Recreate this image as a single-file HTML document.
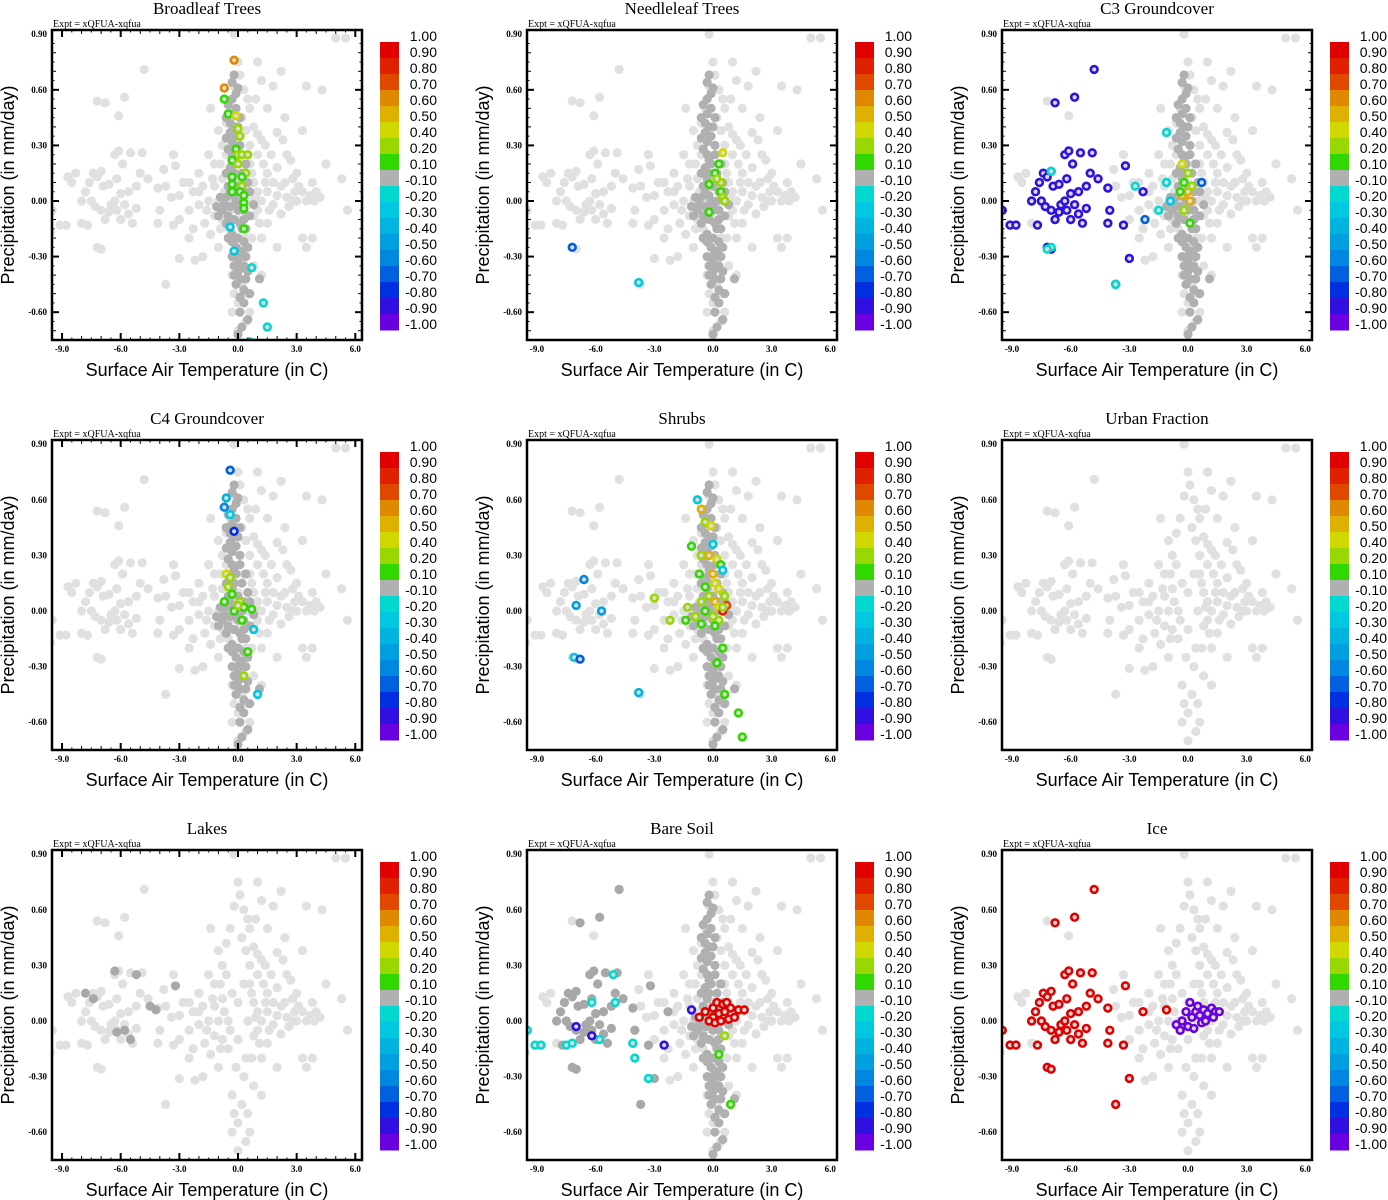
<!DOCTYPE html>
<html><head><meta charset="utf-8">
<style>
html,body{margin:0;padding:0;background:#fff;}
svg{display:block;}
.ttl{font-family:"Liberation Serif",serif;font-size:17px;}
.expt{font-family:"Liberation Serif",serif;font-size:10px;}
.tick{font-family:"Liberation Serif",serif;font-size:9px;font-weight:bold;}
.ax{font-family:"Liberation Sans",sans-serif;font-size:18px;}
.cb{font-family:"Liberation Sans",sans-serif;font-size:14px;}
</style></head>
<body>
<svg id="chart" width="1388" height="1200" viewBox="0 0 1388 1200" xmlns="http://www.w3.org/2000/svg"></svg>
<script>
const panelTitles=["Broadleaf Trees","Needleleaf Trees","C3 Groundcover","C4 Groundcover","Shrubs","Urban Fraction","Lakes","Bare Soil","Ice"];
const xTicks=[-9,-6,-3,0,3,6];
const xTickLabels=["-9.0","-6.0","-3.0","0.0","3.0","6.0"];
const yTicks=[0.9,0.6,0.3,0,-0.3,-0.6];
const yTickLabels=["0.90","0.60","0.30","0.00","-0.30","-0.60"];
const cbLabels=["1.00","0.90","0.80","0.70","0.60","0.50","0.40","0.20","0.10","-0.10","-0.20","-0.30","-0.40","-0.50","-0.60","-0.70","-0.80","-0.90","-1.00"];
const cbEdges=[1,0.9,0.8,0.7,0.6,0.5,0.4,0.2,0.1,-0.1,-0.2,-0.3,-0.4,-0.5,-0.6,-0.7,-0.8,-0.9,-1.0];
const cbColors=["#e00000","#e02000","#e04800","#e08800","#e0b000","#d0d800","#98d800","#30d800","#b0b0b0","#00d8d0","#00c8e0","#00b4e0","#00a0e0","#0088e0","#0060e0","#0030e0","#3010e0","#6a00e0"];

const leftCluster=[[-9.5,-0.05],[-9.1,-0.13],[-8.8,-0.13],[-8.0,0.0],[-7.8,0.05],[-7.6,0.10],[-7.4,0.15],[-7.2,0.13],[-7.0,0.16],[-6.9,0.08],[-6.6,0.09],[-6.2,0.12],[-6.0,0.04],[-5.6,0.05],[-5.2,0.08],[-5.0,0.15],[-4.6,0.12],[-4.1,0.07],[-7.5,0.0],[-7.3,-0.03],[-7.0,-0.05],[-6.8,-0.1],[-6.5,-0.02],[-6.2,-0.05],[-6.0,-0.1],[-5.8,-0.02],[-5.6,-0.07],[-5.4,-0.12],[-5.2,-0.04],[-7.7,-0.13],[-7.2,-0.25],[-7.0,-0.26],[-4.1,-0.12],[-4.0,-0.05],[-3.3,-0.13],[-3.7,-0.45],[-3.0,-0.31],[-6.8,0.53],[-6.3,0.25],[-5.9,0.20],[-5.8,0.56],[-4.8,0.71],[-5.5,0.26],[-6.1,0.27],[-4.9,0.26],[-3.2,0.19],[-2.3,0.05],[-6.3,0.0],[-6.6,-0.06]];
const basePoints=[[0,0.75],[0.1,0.68],[-0.2,0.62],[0.3,0.6],[0.5,0.55],[-0.4,0.5],[0.6,0.5],[0.2,0.45],[-0.6,0.42],[0.8,0.4],[1.0,0.36],[-1.0,0.38],[1.2,0.33],[-0.8,0.3],[0.6,0.3],[1.4,0.3],[2.0,0.37],[2.3,0.33],[1.7,0.25],[-1.5,0.25],[2.5,0.25],[-1.2,0.2],[1.3,0.2],[3.0,0.15],[-2.0,0.15],[2.8,0.12],[-2.5,0.1],[-1.8,0.08],[1.8,0.1],[2.2,0.08],[3.3,0.05],[3.7,0.03],[4.2,0.02],[3.0,0.0],[2.5,0.02],[2.0,0.03],[1.5,0.05],[1.0,0.05],[0.8,0.1],[1.2,0.0],[2.6,-0.03],[-1.0,0.0],[-1.5,0.0],[-2.0,-0.02],[-2.5,-0.05],[-1.2,-0.08],[-0.8,-0.1],[-1.7,-0.12],[-2.3,-0.15],[-3.0,-0.1],[-0.5,-0.15],[0.8,-0.08],[1.5,-0.12],[2.2,-0.07],[3.3,-0.2],[3.5,-0.25],[2.0,-0.25],[1.2,-0.2],[-1.0,-0.25],[-1.8,-0.3],[-2.2,-0.32],[0.3,-0.3],[0.8,-0.35],[1.2,-0.4],[-0.3,-0.4],[0.5,-0.5],[0,-0.55],[-0.3,-0.6],[0.4,-0.65],[0,-0.7],[-0.5,0.0],[0.5,0.0],[0,0.1],[0,-0.1],[0.3,0.2],[-0.3,0.15],[0.4,-0.2],[-0.4,-0.05],[1.8,-0.02],[4.5,0.2],[4.3,0.6],[3.5,0.62],[2.2,0.7],[1.2,0.65],[1.0,0.75],[1.5,0.5],[2.4,0.45],[3.3,0.38],[-1.4,0.5],[-0.2,0.9],[5.3,0.12],[5.6,-0.05],[3.8,-0.2],[-2.5,-0.2],[-3.7,0.08],[-3.4,0.02],[-3.0,0.03],[-3.8,0.17],[-3.3,0.25],[-2.8,0.1],[-0.9,0.2],[-0.6,0.25],[1.5,0.15],[2.0,0.18],[2.7,0.22],[3.8,0.1],[0.9,0.55],[1.8,0.62],[5.0,0.88],[5.5,0.88],[-1.2,0.08],[-2.0,0.05],[-1.6,-0.05],[1.0,-0.05],[0.2,-0.45],[-0.1,-0.25],[-0.7,0.05],[0.7,0.15],[-1.3,0.12],[1.6,-0.05],[2.9,0.05],[3.5,0.0],[4.0,0.05],[-8.5,0.1],[-8.3,0.15],[-8.0,-0.12],[-7.2,0.54],[-6.1,0.46],[-8.7,0.13],[-9.6,-0.17],[0.9,0.02],[1.4,0.1],[2.4,0.1],[3.1,0.08],[1.1,-0.12],[0.7,-0.2],[-0.9,-0.15],[-1.4,-0.18],[0.6,0.2],[1.0,0.25],[-0.8,0.12],[0.4,0.38],[2.8,0.0],[3.9,0.0],[0.6,-0.6],[-0.2,-0.5]];
const darkColumn=[[-0.2,0.68],[-0.3,0.64],[0,0.61],[-0.3,0.55],[-0.5,0.52],[-0.3,0.47],[-0.6,0.45],[-0.2,0.4],[-0.4,0.37],[-0.1,0.35],[-0.6,0.34],[-0.3,0.32],[-0.5,0.28],[0.1,0.3],[-0.3,0.25],[-0.1,0.2],[-0.4,0.18],[0.2,0.15],[-0.3,0.12],[-0.5,0.08],[0,0.08],[0.3,0.05],[-0.2,0.03],[-0.7,-0.02],[-0.4,-0.03],[0,-0.02],[0.3,-0.05],[-0.5,-0.08],[-0.2,-0.1],[0.1,-0.12],[0.4,-0.15],[-0.3,-0.18],[0,-0.2],[0.3,-0.22],[-0.1,-0.25],[0.2,-0.27],[0.5,-0.25],[-0.3,-0.3],[0,-0.32],[0.2,-0.36],[0.5,-0.38],[0.1,-0.42],[-0.1,-0.45],[0.3,-0.48],[0.6,-0.5],[0.1,-0.52],[0.3,-0.55],[0.1,-0.6],[0.5,-0.64],[0.2,-0.68],[0,-0.72],[-0.2,0.22],[0.2,0.0],[0.5,0.1],[-0.6,0.15],[0.1,0.45],[0,-0.05],[-0.2,-0.4],[0.4,-0.3],[-0.1,0.5],[1.1,-0.42],[-0.1,0.0],[-0.8,-0.05],[-0.9,0.02],[-1.1,-0.03],[-1.0,-0.08],[-0.6,-0.12],[0.6,-0.08],[0.6,0.05],[0.4,0.2],[-0.2,0.15],[0.1,0.25],[-0.4,0.05],[0.3,-0.1],[-0.5,-0.2],[0.2,-0.15],[0.4,-0.42],[0,-0.38],[-0.2,-0.35],[0.3,-0.35],[0.1,-0.28],[-0.4,0.42],[-0.1,0.58],[0.0,0.4],[-0.6,0.02],[0.8,-0.02],[-0.3,-0.22]];
const showDark=[true,true,true,true,true,false,false,true,false];

const broadleafPts=[[-0.2,0.76,0.6],[-0.7,0.61,0.6],[-0.7,0.55,0.1],[-0.5,0.47,0.15],[-0.1,0.46,0.4],[0,0.39,0.2],[0.1,0.35,0.2],[-0.1,0.28,0.1],[0,0.25,0.3],[0.2,0.25,0.3],[0.5,0.25,0.3],[-0.3,0.22,0.1],[0,0.2,0.3],[0.4,0.15,0.2],[0.2,0.13,0.1],[-0.3,0.13,0.1],[-0.3,0.09,0.1],[0.2,0.08,0.2],[0.1,0.05,0.1],[-0.3,0.05,0.1],[0.3,0.03,0.1],[0.3,-0.01,0.1],[0.3,-0.04,0.1],[0.3,-0.15,0.1],[-0.2,-0.27,-0.3],[0.7,-0.36,-0.2],[1.3,-0.55,-0.2],[1.5,-0.68,-0.2],[0.6,-0.76,-0.2],[-0.4,-0.14,-0.3]];
const needleleafPts=[[-7.2,-0.25,-0.7],[-3.8,-0.44,-0.3],[0.5,0.26,0.4],[0.3,0.2,0.1],[0.1,0.15,0.1],[-0.2,0.09,0.1],[0.4,0.1,0.2],[0.4,0.05,0.1],[0.5,0.02,0.3],[-0.2,-0.06,0.1],[0.6,0.0,0.2],[0.2,0.12,0.2]];
const c3LeftValue=-0.9;
const c3Pts=[[-1.1,0.1,-0.2],[-2.7,0.08,-0.2],[-2.2,-0.1,-0.7],[-0.9,0.0,-0.3],[-1.5,-0.05,-0.2],[-0.3,0.2,0.4],[0.0,0.15,0.2],[-0.2,0.1,0.1],[0,0.05,0.5],[-0.3,0.03,0.5],[0.1,0.0,0.5],[-0.2,-0.05,0.2],[0.1,-0.12,0.1],[0.7,0.1,-0.7],[-1.1,0.37,-0.2],[-0.4,0.05,0.1],[0.2,0.08,0.3],[-7.0,-0.25,-0.2],[-7.2,-0.26,-0.2],[-3.7,-0.45,-0.2],[-7.0,0.16,-0.2]];
const c4Pts=[[-0.4,0.76,-0.7],[-0.6,0.61,-0.4],[-0.7,0.56,-0.6],[-0.4,0.52,-0.3],[-0.2,0.43,-0.8],[-0.6,0.2,0.4],[-0.4,0.18,0.3],[-0.5,0.13,0.2],[-0.3,0.09,0.1],[-0.7,0.05,0.1],[0.1,0.05,0.2],[0.3,0.02,0.1],[-0.2,0.0,0.1],[0.7,0.01,0.1],[0.2,-0.05,0.1],[0.8,-0.1,-0.3],[0.5,-0.22,0.1],[0.3,-0.35,0.3],[1.0,-0.45,-0.3],[0.0,0.03,0.2]];
const shrubsPts=[[-6.6,0.17,-0.6],[-7.0,0.03,-0.5],[-5.7,0.0,-0.5],[-7.1,-0.25,-0.3],[-6.8,-0.26,-0.7],[-3.8,-0.44,-0.4],[-3.0,0.07,0.2],[-1.3,0.02,0.2],[-2.2,-0.05,0.3],[-1.4,-0.05,0.1],[-0.8,0.6,-0.3],[-0.6,0.55,0.5],[-0.4,0.48,0.3],[-0.1,0.46,0.4],[0,0.36,-0.3],[-1.1,0.35,0.1],[-0.6,0.3,0.2],[-0.2,0.3,0.5],[0.2,0.28,0.4],[0.4,0.25,0.1],[-0.7,0.2,0.1],[0.5,0.22,-0.3],[0,0.2,0.5],[0.1,0.15,0.4],[-0.4,0.13,0.1],[0.3,0.12,0.4],[-0.2,0.08,0.3],[0.6,0.08,0.2],[0.1,0.05,0.5],[-0.6,0.05,0.2],[0.3,0.02,0.4],[0.7,0.03,0.7],[0.5,0.0,0.8],[-0.4,0.0,0.1],[-0.9,-0.03,0.2],[0,-0.03,0.2],[0.3,-0.05,0.3],[-0.6,-0.07,0.1],[0.1,-0.08,0.1],[0.5,-0.2,0.1],[0.2,-0.28,0.1],[0.6,-0.45,0.1],[1.3,-0.55,0.1],[1.5,-0.68,0.1],[0.5,0.02,0.3]];
const urbanPts=[];
const lakesPts=[[-7.8,0.15,0],[-7.4,0.12,0],[-6.3,0.27,0],[-5.2,0.25,0],[-4.5,0.08,0],[-4.2,0.06,0],[-3.2,0.19,0],[-5.8,-0.05,0],[-5.5,-0.1,0],[-6.2,-0.06,0]];
const bareLeftValue=0;
const barePts=[[-9.5,-0.05,-0.2],[-9.1,-0.13,-0.2],[-8.8,-0.13,-0.2],[-7.5,-0.13,-0.2],[-7.2,-0.12,-0.2],[-6.2,0.1,-0.2],[-5.8,-0.1,-0.2],[-5.0,0.1,-0.2],[-4.0,-0.2,-0.2],[-4.1,-0.12,-0.2],[-3.3,-0.31,-0.2],[-5.1,0.25,-0.2],[-7.0,-0.03,-0.9],[-6.2,-0.08,-0.9],[-2.5,-0.13,-0.9],[-1.1,0.06,-0.9],[-0.7,0.02,1],[-0.4,0.05,1],[0,0.02,1],[0.3,0.04,1],[0.6,0.05,1],[0.9,0.07,1],[1.3,0.06,1],[1.6,0.06,1],[0.2,0.1,1],[0.5,0.09,1],[0.8,0.01,1],[-0.2,0.0,1],[0.1,-0.01,1],[0.4,0.0,1],[1.1,0.02,1],[0.7,0.1,1],[0,0.07,1],[0.3,-0.18,0.1],[0.9,-0.45,0.1],[0.6,-0.08,0.2]];
const iceLeftValue=1.0;
const icePts=[[-0.6,-0.02,-1],[-0.3,0.0,-1],[0,-0.03,-1],[0.2,0.02,-1],[0.4,0.05,-1],[0.6,0.03,-1],[0.8,0.06,-1],[1.0,0.04,-1],[1.2,0.07,-1],[1.4,0.05,-1],[1.6,0.05,-1],[-0.1,0.05,-1],[0.3,-0.04,-1],[0.7,-0.01,-1],[0.1,0.1,-1],[0.5,0.08,-1],[-0.4,-0.05,-1],[0.9,0.0,-1],[1.3,0.02,-1],[-1.1,0.06,1]];

const panelPts=[broadleafPts,needleleafPts,c3Pts,c4Pts,shrubsPts,urbanPts,lakesPts,barePts,icePts];
const panelLeftValue=[null,null,c3LeftValue,null,null,null,null,bareLeftValue,iceLeftValue];

const NS="http://www.w3.org/2000/svg";
const svg=document.getElementById('chart');
function mk(tag,attrs,parent,text){const e=document.createElementNS(NS,tag);for(const k in attrs)e.setAttribute(k,attrs[k]);if(text!==undefined)e.textContent=text;(parent||svg).appendChild(e);return e;}
function colorFor(v){
  if(Math.abs(v)<0.1)return cbColors[8];
  for(let i=0;i<cbColors.length;i++){if(v<=cbEdges[i]+1e-9&&v>=cbEdges[i+1]-1e-9)return cbColors[i];}
  return v>0?cbColors[0]:cbColors[cbColors.length-1];
}
const defs=mk('defs',{});
for(let p=0;p<9;p++){
  const col=p%3,row=Math.floor(p/3);
  const ox=col*475,oy=row*410;
  const sx=x=>ox+238+x*19.55;
  const sy=y=>oy+201-y*185.3;
  const g=mk('g',{});
  
  
  const cp=mk('clipPath',{id:'clip'+p},defs);
  mk('rect',{x:ox+52,y:oy+30,width:310,height:310},cp);
  const t=mk('text',{x:ox+207,y:oy+14,'text-anchor':'middle',class:'ttl'},g,panelTitles[p]);
  
  
  const ex=mk('text',{x:ox+53,y:oy+27,class:'expt'},g,'Expt = xQFUA-xqfua');
  
  
  const pts=mk('g',{'clip-path':'url(#clip'+p+')'},g);
  
  
  for(const q of basePoints.concat(leftCluster)){
    const c=mk('circle',{cx:sx(q[0]),cy:sy(q[1]),r:4.6,fill:'#e0e0e0'},pts);
    
    
  }
  if(showDark[p]){
    for(const q of darkColumn){
      const c=mk('circle',{cx:sx(q[0]),cy:sy(q[1]),r:4.6,fill:'#b0b0b0'},pts);
      
      
    }
  }
  let list=panelPts[p].slice();
  if(panelLeftValue[p]!==null){list=leftCluster.map(q=>[q[0],q[1],panelLeftValue[p]]).concat(list);}
  for(const q of list){
    const clr=colorFor(q[2]);
    let c;
    if(Math.abs(q[2])<0.1){c=mk('circle',{cx:sx(q[0]),cy:sy(q[1]),r:4.6,fill:'#a8a8a8'},pts);}
    else{c=mk('circle',{cx:sx(q[0]),cy:sy(q[1]),r:3.4,fill:'#dcdcdc',stroke:clr,'stroke-width':2.6},pts);}
    
    
  }
  const fr=mk('rect',{x:ox+52,y:oy+30,width:310,height:310,fill:'none',stroke:'#000','stroke-width':2.5},g);
  
  
  for(let v=-9.5;v<=6.5;v+=0.5){
    const px=sx(v);if(px<53||px>361)continue;
    const major=Math.abs(v%3)<1e-6, mid=Math.abs(v%1)<1e-6;
    const L=major?7:(mid?4:2.5);
    mk('line',{x1:px,x2:px,y1:oy+340,y2:oy+340-L,stroke:'#000','stroke-width':major?2:1},g);
    mk('line',{x1:px,x2:px,y1:oy+30,y2:oy+30+L,stroke:'#000','stroke-width':major?2:1},g);
  }
  xTicks.forEach((v,i)=>{
    const tl=mk('text',{x:sx(v),y:oy+352,'text-anchor':'middle',class:'tick'},g,xTickLabels[i]);
    
    
  });
  for(let v=-0.75;v<=0.9;v+=0.05){
    const py=sy(v);if(py<31||py>339)continue;
    const k=Math.round(v*100);
    const major=k%30===0, mid=k%10===0;
    const L=major?7:(mid?4:2.5);
    mk('line',{x1:ox+52,x2:ox+52+L,y1:py,y2:py,stroke:'#000','stroke-width':major?2:1},g);
    mk('line',{x1:ox+362,x2:ox+362-L,y1:py,y2:py,stroke:'#000','stroke-width':major?2:1},g);
  }
  yTicks.forEach((v,i)=>{
    const tl=mk('text',{x:ox+47,y:sy(v)+3,'text-anchor':'end',class:'tick'},g,yTickLabels[i]);
    
    
  });
  const xt=mk('text',{x:ox+207,y:oy+376,'text-anchor':'middle',class:'ax'},g,'Surface Air Temperature (in C)');
  
  
  const yt=mk('text',{x:0,y:0,'text-anchor':'middle',class:'ax',transform:'translate('+(ox+14)+','+(oy+185)+') rotate(-90)'},g,'Precipitation (in mm/day)');
  
  
  const cb=mk('g',{},g);
  
  
  const bh=16;
  for(let i=0;i<cbColors.length;i++){
    const b=mk('rect',{x:ox+380,y:oy+42+i*bh,width:19,height:bh+0.5,fill:cbColors[i]},cb);
    
    
  }
  cbLabels.forEach((s,i)=>{
    const tl=mk('text',{x:ox+437,y:oy+41+i*16,'text-anchor':'end',class:'cb'},cb,s);
    
    
  });
}
</script>
</body></html>
